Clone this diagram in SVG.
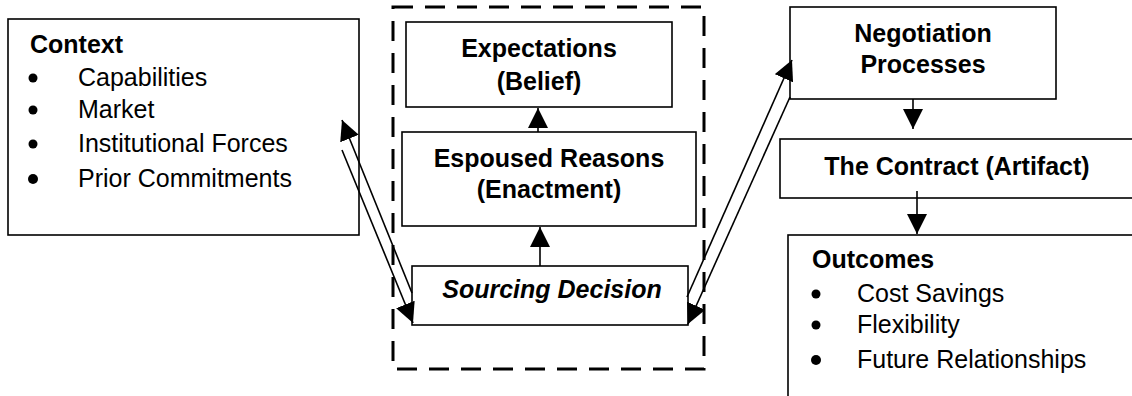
<svg xmlns="http://www.w3.org/2000/svg" width="1132" height="396" viewBox="0 0 1132 396">
<defs>
<style>
.box{fill:#fff;stroke:#000;stroke-width:1.6}
.dash{fill:none;stroke:#000;stroke-width:3;stroke-dasharray:20 12}
.ln{fill:none;stroke:#000;stroke-width:1.6}
.b{font-family:"Liberation Sans",Arial,sans-serif;font-weight:bold;font-size:25px;fill:#000}
.bi{font-family:"Liberation Sans",Arial,sans-serif;font-weight:bold;font-style:italic;font-size:25px;fill:#000}
.r{font-family:"Liberation Sans",Arial,sans-serif;font-size:25px;fill:#000}
.c{text-anchor:middle}
</style>
<marker id="ah" markerUnits="userSpaceOnUse" markerWidth="22" markerHeight="20" refX="20" refY="10" orient="auto">
<path d="M0,0 L20,10 L0,20 z" fill="#000"/>
</marker>
</defs>
<rect width="1132" height="396" fill="#fff"/>
<g id="scope">
<rect class="dash" x="393" y="7" width="311" height="362"/>
</g>
<g id="context">
<rect class="box" x="8" y="19" width="351" height="216"/>
<text class="b" x="30" y="53">Context</text>
<circle cx="33" cy="78" r="4.5"/><text class="r" x="78" y="86">Capabilities</text>
<circle cx="33" cy="110" r="4.5"/><text class="r" x="78" y="118">Market</text>
<circle cx="33" cy="144" r="4.5"/><text class="r" x="78" y="152">Institutional Forces</text>
<circle cx="33" cy="179" r="5"/><text class="r" x="78" y="187">Prior Commitments</text>
</g>
<g id="expectations">
<rect class="box" x="406" y="22" width="266" height="85"/>
<text class="b c" x="539" y="57">Expectations</text>
<text class="b c" x="539" y="90">(Belief)</text>
</g>
<g id="espoused">
<rect class="box" x="402" y="132" width="294" height="94"/>
<text class="b c" x="549" y="167">Espoused Reasons</text>
<text class="b c" x="549" y="198">(Enactment)</text>
</g>
<g id="sourcing">
<rect class="box" x="412" y="266" width="276" height="59"/>
<text class="bi c" x="552" y="298">Sourcing Decision</text>
</g>
<g id="negotiation">
<rect class="box" x="790" y="7" width="266" height="92"/>
<text class="b c" x="923" y="42">Negotiation</text>
<text class="b c" x="923" y="73">Processes</text>
</g>
<g id="contract">
<rect class="box" x="780" y="139" width="360" height="59"/>
<text class="b c" x="957" y="175">The Contract (Artifact)</text>
</g>
<g id="outcomes">
<rect class="box" x="788" y="235" width="360" height="180"/>
<text class="b" x="812" y="268">Outcomes</text>
<circle cx="816" cy="294" r="4.5"/><text class="r" x="857" y="302">Cost Savings</text>
<circle cx="816" cy="325" r="4.5"/><text class="r" x="857" y="333">Flexibility</text>
<circle cx="816" cy="360" r="5"/><text class="r" x="857" y="368">Future Relationships</text>
</g>
<g id="connectors">
<line class="ln" x1="540" y1="266" x2="540" y2="227" marker-end="url(#ah)"/>
<line class="ln" x1="538" y1="132" x2="538" y2="108" marker-end="url(#ah)"/>
<line class="ln" x1="913" y1="99" x2="913" y2="129" marker-end="url(#ah)"/>
<line class="ln" x1="917" y1="191" x2="917" y2="234" marker-end="url(#ah)"/>
<line class="ln" x1="412" y1="293" x2="342" y2="120" marker-end="url(#ah)"/>
<line class="ln" x1="342" y1="150" x2="413" y2="323" marker-end="url(#ah)"/>
<line class="ln" x1="687" y1="297" x2="792" y2="60" marker-end="url(#ah)"/>
<line class="ln" x1="790" y1="97" x2="688" y2="324" marker-end="url(#ah)"/>
</g>
</svg>
